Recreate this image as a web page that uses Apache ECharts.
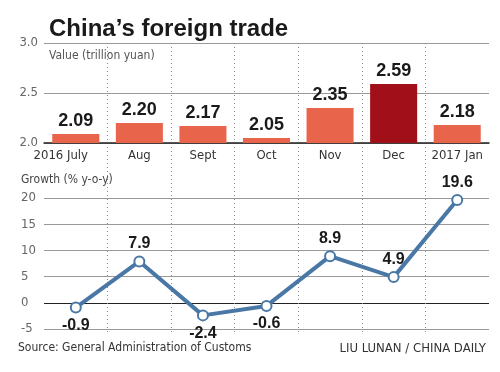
<!DOCTYPE html>
<html><head><meta charset="utf-8">
<script src="https://cdn.jsdelivr.net/npm/echarts@6/dist/echarts.min.js"></script>
<style>html,body{margin:0;padding:0;background:#fff}#c{width:500px;height:372px}</style>
</head><body><div id="c"></div>
<script>
const months = ['2016 July','Aug','Sept','Oct','Nov','Dec','2017 Jan'];
const tradeValue = [2.09,2.20,2.17,2.05,2.35,2.59,2.18];
const growth = [-0.9,7.9,-2.4,-0.6,8.9,4.9,19.6];
const growthLabelPos = ['bottom','top','bottom','bottom','top','top','top'];
const highlightIndex = 5;

const NARROW = "'DejaVu Sans Condensed','Liberation Sans Narrow',Roboto,sans-serif";
const BOLD = "'Liberation Sans',Arial,sans-serif";
const chart = echarts.init(document.getElementById('c'), null, {renderer:'canvas'});
chart.setOption({
  animation:false,
  backgroundColor:'#fff',
  title:[
    {text:'China\u2019s foreign trade', left:44, top:12, textStyle:{fontFamily:BOLD, fontWeight:'bold', fontSize:24, color:'#1a1a1a'}},
    {text:'Value (trillion yuan)', left:44, top:45, textStyle:{fontFamily:NARROW, fontWeight:'normal', fontSize:12, color:'#555'}},
    {text:'Growth (% y-o-y)', left:16, top:169, textStyle:{fontFamily:NARROW, fontWeight:'normal', fontSize:12, color:'#444'}},
    {text:'Source: General Administration of Customs', left:13, top:337, textStyle:{fontFamily:NARROW, fontWeight:'normal', fontSize:12, color:'#333'}},
    {text:'LIU LUNAN / CHINA DAILY', right:9, top:337, textStyle:{fontFamily:NARROW, fontWeight:'normal', fontSize:13, color:'#333'}}
  ],
  grid:[
    {left:44, right:11, top:43, height:100},
    {left:44, right:11, top:198, height:131},
    {left:44, right:11, top:43, height:290}
  ],
  xAxis:[
    {type:'category', gridIndex:0, data:months,
     axisLine:{lineStyle:{color:'#222', width:1.5}}, axisTick:{show:false},
     axisLabel:{interval:0, fontFamily:NARROW, fontSize:13, color:'#333', margin:6,
       formatter:function(v,i){return i===0?'{a|'+v+'}':v;},
       rich:{a:{fontFamily:NARROW, fontSize:13, color:'#333', padding:[0,30,0,0]}}}},
    {type:'category', gridIndex:1, data:months, axisLine:{show:false}, axisTick:{show:false}, axisLabel:{show:false}},
    {type:'value', gridIndex:2, min:0, max:7, interval:1, axisLine:{show:false}, axisTick:{show:false}, axisLabel:{show:false},
     splitLine:{show:true, showMinLine:false, showMaxLine:false, lineStyle:{type:[1,3], color:'#888', width:1}}}
  ],
  yAxis:[
    {type:'value', gridIndex:0, min:2.0, max:3.0, interval:0.5, axisLine:{show:false}, axisTick:{show:false},
     axisLabel:{fontFamily:NARROW, fontSize:13, color:'#666', margin:6, formatter:v=>v.toFixed(1)},
     splitLine:{lineStyle:{color:'#999', width:1.2}}},
    {type:'value', gridIndex:1, min:-5, max:20, interval:5, axisLine:{show:false}, axisTick:{show:false},
     axisLabel:{fontFamily:NARROW, fontSize:13, color:'#666', margin:23, align:'left'},
     splitLine:{lineStyle:{color:['#999','#222','#999','#999','#999','#999'], width:1.2}}},
    {type:'value', gridIndex:2, min:0, max:1, show:false, splitLine:{show:false}}
  ],
  series:[
    {type:'bar', xAxisIndex:0, yAxisIndex:0, barWidth:'74%',
     data:tradeValue.map((v,i)=>({value:v, itemStyle:{color:i===highlightIndex?'#a10f19':'#e8644b'}})),
     label:{show:true, position:'top', distance:4, fontFamily:BOLD, fontWeight:'bold', fontSize:18, color:'#1a1a1a', formatter:p=>p.value.toFixed(2)}},
    {type:'line', xAxisIndex:1, yAxisIndex:1, z:5,
     data:growth.map((v,i)=>({value:v, label:{position:growthLabelPos[i]}})),
     lineStyle:{color:'#4a78a6', width:4}, symbol:'circle', symbolSize:10,
     itemStyle:{color:'#fff', borderColor:'#4a78a6', borderWidth:2},
     label:{show:true, distance:4, fontFamily:BOLD, fontWeight:'bold', fontSize:16, color:'#1a1a1a', formatter:p=>p.value.toFixed(1)}},
    {type:'scatter', xAxisIndex:2, yAxisIndex:2, data:[], silent:true}
  ]
});
</script></body></html>
